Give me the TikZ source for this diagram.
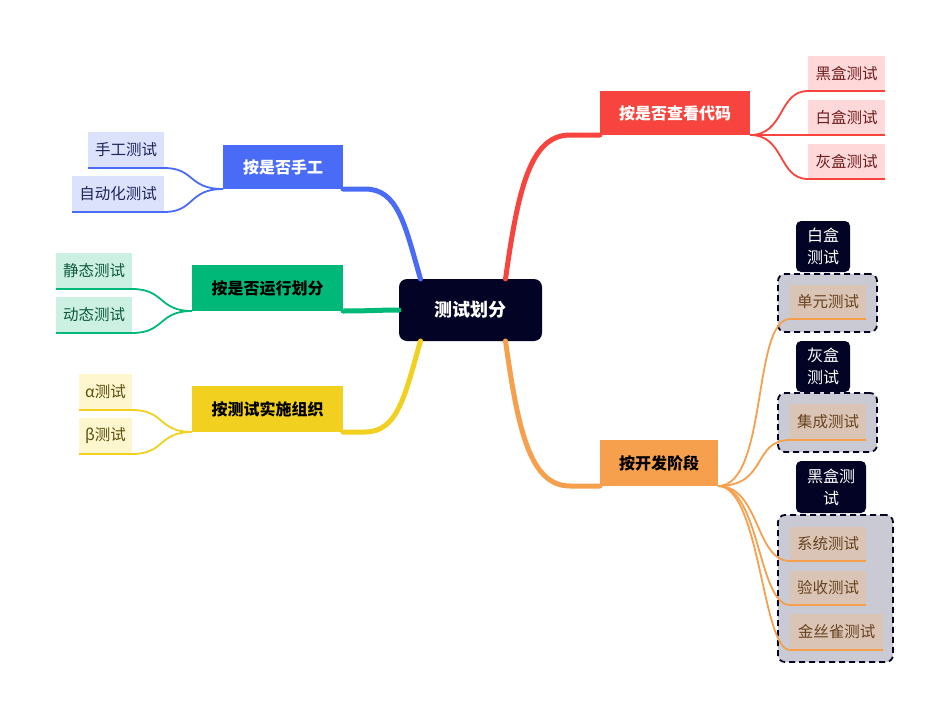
\documentclass[tikz,border=0pt]{standalone}
\usepackage{fontspec}
\setmainfont{Noto Sans CJK SC}
\definecolor{navy}{RGB}{3,3,38}
\definecolor{redM}{RGB}{248,68,62}
\definecolor{redC}{RGB}{255,217,217}
\definecolor{redT}{RGB}{110,28,28}
\definecolor{blueM}{RGB}{74,107,246}
\definecolor{blueC}{RGB}{220,225,252}
\definecolor{blueT}{RGB}{28,38,90}
\definecolor{greenM}{RGB}{0,185,120}
\definecolor{greenC}{RGB}{204,241,227}
\definecolor{greenT}{RGB}{14,88,60}
\definecolor{yelM}{RGB}{242,208,32}
\definecolor{yelC}{RGB}{253,246,207}
\definecolor{yelT}{RGB}{92,78,10}
\definecolor{oraM}{RGB}{246,160,77}
\definecolor{oraC}{RGB}{217,196,182}
\definecolor{oraT}{RGB}{105,66,30}
\definecolor{grayC}{RGB}{201,202,212}
\begin{document}
\begin{tikzpicture}[x=1pt,y=-1pt,
  every node/.style={inner sep=0pt, outer sep=0pt, align=center},
  mainbox/.style={fill=#1, font=\fontsize{16}{19}\selectfont\bfseries},
  childbox/.style={fill=#1, font=\fontsize{15.5}{18}\selectfont},
  tagbox/.style={fill=navy, text=white, rounded corners=5pt, font=\fontsize{16}{22}\selectfont},
  groupbox/.style={fill=grayC, draw=navy, line width=1.8pt, dash pattern=on 6pt off 4pt, rounded corners=7pt},
  branch/.style={draw=#1, line width=5pt, line cap=round},
  twig/.style={draw=#1, line width=1.8pt}]
\useasboundingbox (0,0) rectangle (951,720);

% central topic
\node[fill=navy, rounded corners=8pt, text=white, minimum width=143pt, minimum height=62pt,
      font=\fontsize{18}{21}\selectfont\bfseries] (root) at (470.5,310) {测试划分};

% main topics
\node[mainbox=redM, text=white, minimum width=150pt, minimum height=44pt] (code) at (675,113) {按是否查看代码};
\node[mainbox=blueM, text=white, minimum width=120pt, minimum height=44pt] (manual) at (283,167) {按是否手工};
\node[mainbox=greenM, text=black, minimum width=151pt, minimum height=46pt] (run) at (267.5,288) {按是否运行划分};
\node[mainbox=yelM, text=black, minimum width=151pt, minimum height=46pt] (org) at (267.5,409) {按测试实施组织};
\node[mainbox=oraM, text=black, minimum width=118pt, minimum height=46pt] (stage) at (659,463) {按开发阶段};

% branches from the central topic
\draw[branch=redM] ([xshift=35pt]root.north) .. controls (518,190) and (530,135) .. (570,135) -- (code.south west);
\draw[branch=blueM] ([xshift=-50pt]root.north) .. controls (405,225) and (398,189) .. (365,189) -- (manual.south east);
\draw[branch=greenM] (root.west) .. controls (380,310) and (370,311) .. (run.south east);
\draw[branch=yelM] ([xshift=-50pt]root.south) .. controls (405,395) and (398,432) .. (365,432) -- (org.south east);
\draw[branch=oraM] ([xshift=35pt]root.south) .. controls (518,430) and (530,486) .. (570,486) -- (stage.south west);

% code-visibility leaves
\node[childbox=redC, text=redT, minimum width=77pt, minimum height=35pt] (black) at (846.5,73.5) {黑盒测试};
\node[childbox=redC, text=redT, minimum width=77pt, minimum height=35pt] (white) at (846.5,117.5) {白盒测试};
\node[childbox=redC, text=redT, minimum width=77pt, minimum height=35pt] (gray) at (846.5,161.5) {灰盒测试};
\draw[twig=redM] (code.south east) .. controls (785,135) and (778,91) .. (black.south west) -- (black.south east);
\draw[twig=redM] (code.south east) -- (white.south east);
\draw[twig=redM] (code.south east) .. controls (785,135) and (778,179) .. (gray.south west) -- (gray.south east);

% manual / automated leaves
\node[childbox=blueC, text=blueT, minimum width=76pt, minimum height=36pt] (hand) at (126,150) {手工测试};
\node[childbox=blueC, text=blueT, minimum width=92pt, minimum height=36pt] (auto) at (118,194) {自动化测试};
\draw[twig=blueM] (manual.south west) .. controls (188,189) and (195,168) .. (hand.south east) -- (hand.south west);
\draw[twig=blueM] (manual.south west) .. controls (188,189) and (195,212) .. (auto.south east) -- (auto.south west);

% static / dynamic leaves
\node[childbox=greenC, text=greenT, minimum width=76pt, minimum height=36pt] (static) at (94,271) {静态测试};
\node[childbox=greenC, text=greenT, minimum width=76pt, minimum height=36pt] (dynamic) at (94,315) {动态测试};
\draw[twig=greenM] (run.south west) .. controls (158,311) and (165,289) .. (static.south east) -- (static.south west);
\draw[twig=greenM] (run.south west) .. controls (158,311) and (165,333) .. (dynamic.south east) -- (dynamic.south west);

% alpha / beta leaves
\node[childbox=yelC, text=yelT, minimum width=53pt, minimum height=36pt] (alpha) at (105.5,392) {α测试};
\node[childbox=yelC, text=yelT, minimum width=53pt, minimum height=36pt] (beta) at (105.5,436) {β测试};
\draw[twig=yelM] (org.south west) .. controls (158,432) and (165,410) .. (alpha.south east) -- (alpha.south west);
\draw[twig=yelM] (org.south west) .. controls (158,432) and (165,454) .. (beta.south east) -- (beta.south west);

% development-stage groups
\node[groupbox, minimum width=99pt, minimum height=58pt] (g1) at (827.5,303) {};
\node[groupbox, minimum width=99pt, minimum height=59pt] (g2) at (827.5,422.5) {};
\node[groupbox, minimum width=115pt, minimum height=147pt] (g3) at (835.5,588.5) {};
\node[tagbox, minimum width=54pt, minimum height=51pt] (t1) at (823,246.5) {白盒\\测试};
\node[tagbox, minimum width=54pt, minimum height=51pt] (t2) at (823,366.5) {灰盒\\测试};
\node[tagbox, minimum width=70pt, minimum height=52pt] (t3) at (831,487) {黑盒测\\试};

\node[childbox=oraC, text=oraT, minimum width=76pt, minimum height=34pt] (unit) at (828,302) {单元测试};
\node[childbox=oraC, text=oraT, minimum width=76pt, minimum height=36pt] (integ) at (828,422) {集成测试};
\node[childbox=oraC, text=oraT, minimum width=76pt, minimum height=34pt] (sys) at (828,544) {系统测试};
\node[childbox=oraC, text=oraT, minimum width=76pt, minimum height=34pt] (accept) at (828,588) {验收测试};
\node[childbox=oraC, text=oraT, minimum width=93pt, minimum height=36pt] (canary) at (836.5,632) {金丝雀测试};

\draw[twig=oraM] (stage.south east) .. controls (768,486) and (752,319) .. (unit.south west) -- (unit.south east);
\draw[twig=oraM] (stage.south east) .. controls (768,486) and (752,440) .. (integ.south west) -- (integ.south east);
\draw[twig=oraM] (stage.south east) .. controls (760,486) and (755,561) .. (sys.south west) -- (sys.south east);
\draw[twig=oraM] (stage.south east) .. controls (760,486) and (758,605) .. (accept.south west) -- (accept.south east);
\draw[twig=oraM] (stage.south east) .. controls (760,486) and (762,650) .. (canary.south west) -- (canary.south east);
\end{tikzpicture}
\end{document}
